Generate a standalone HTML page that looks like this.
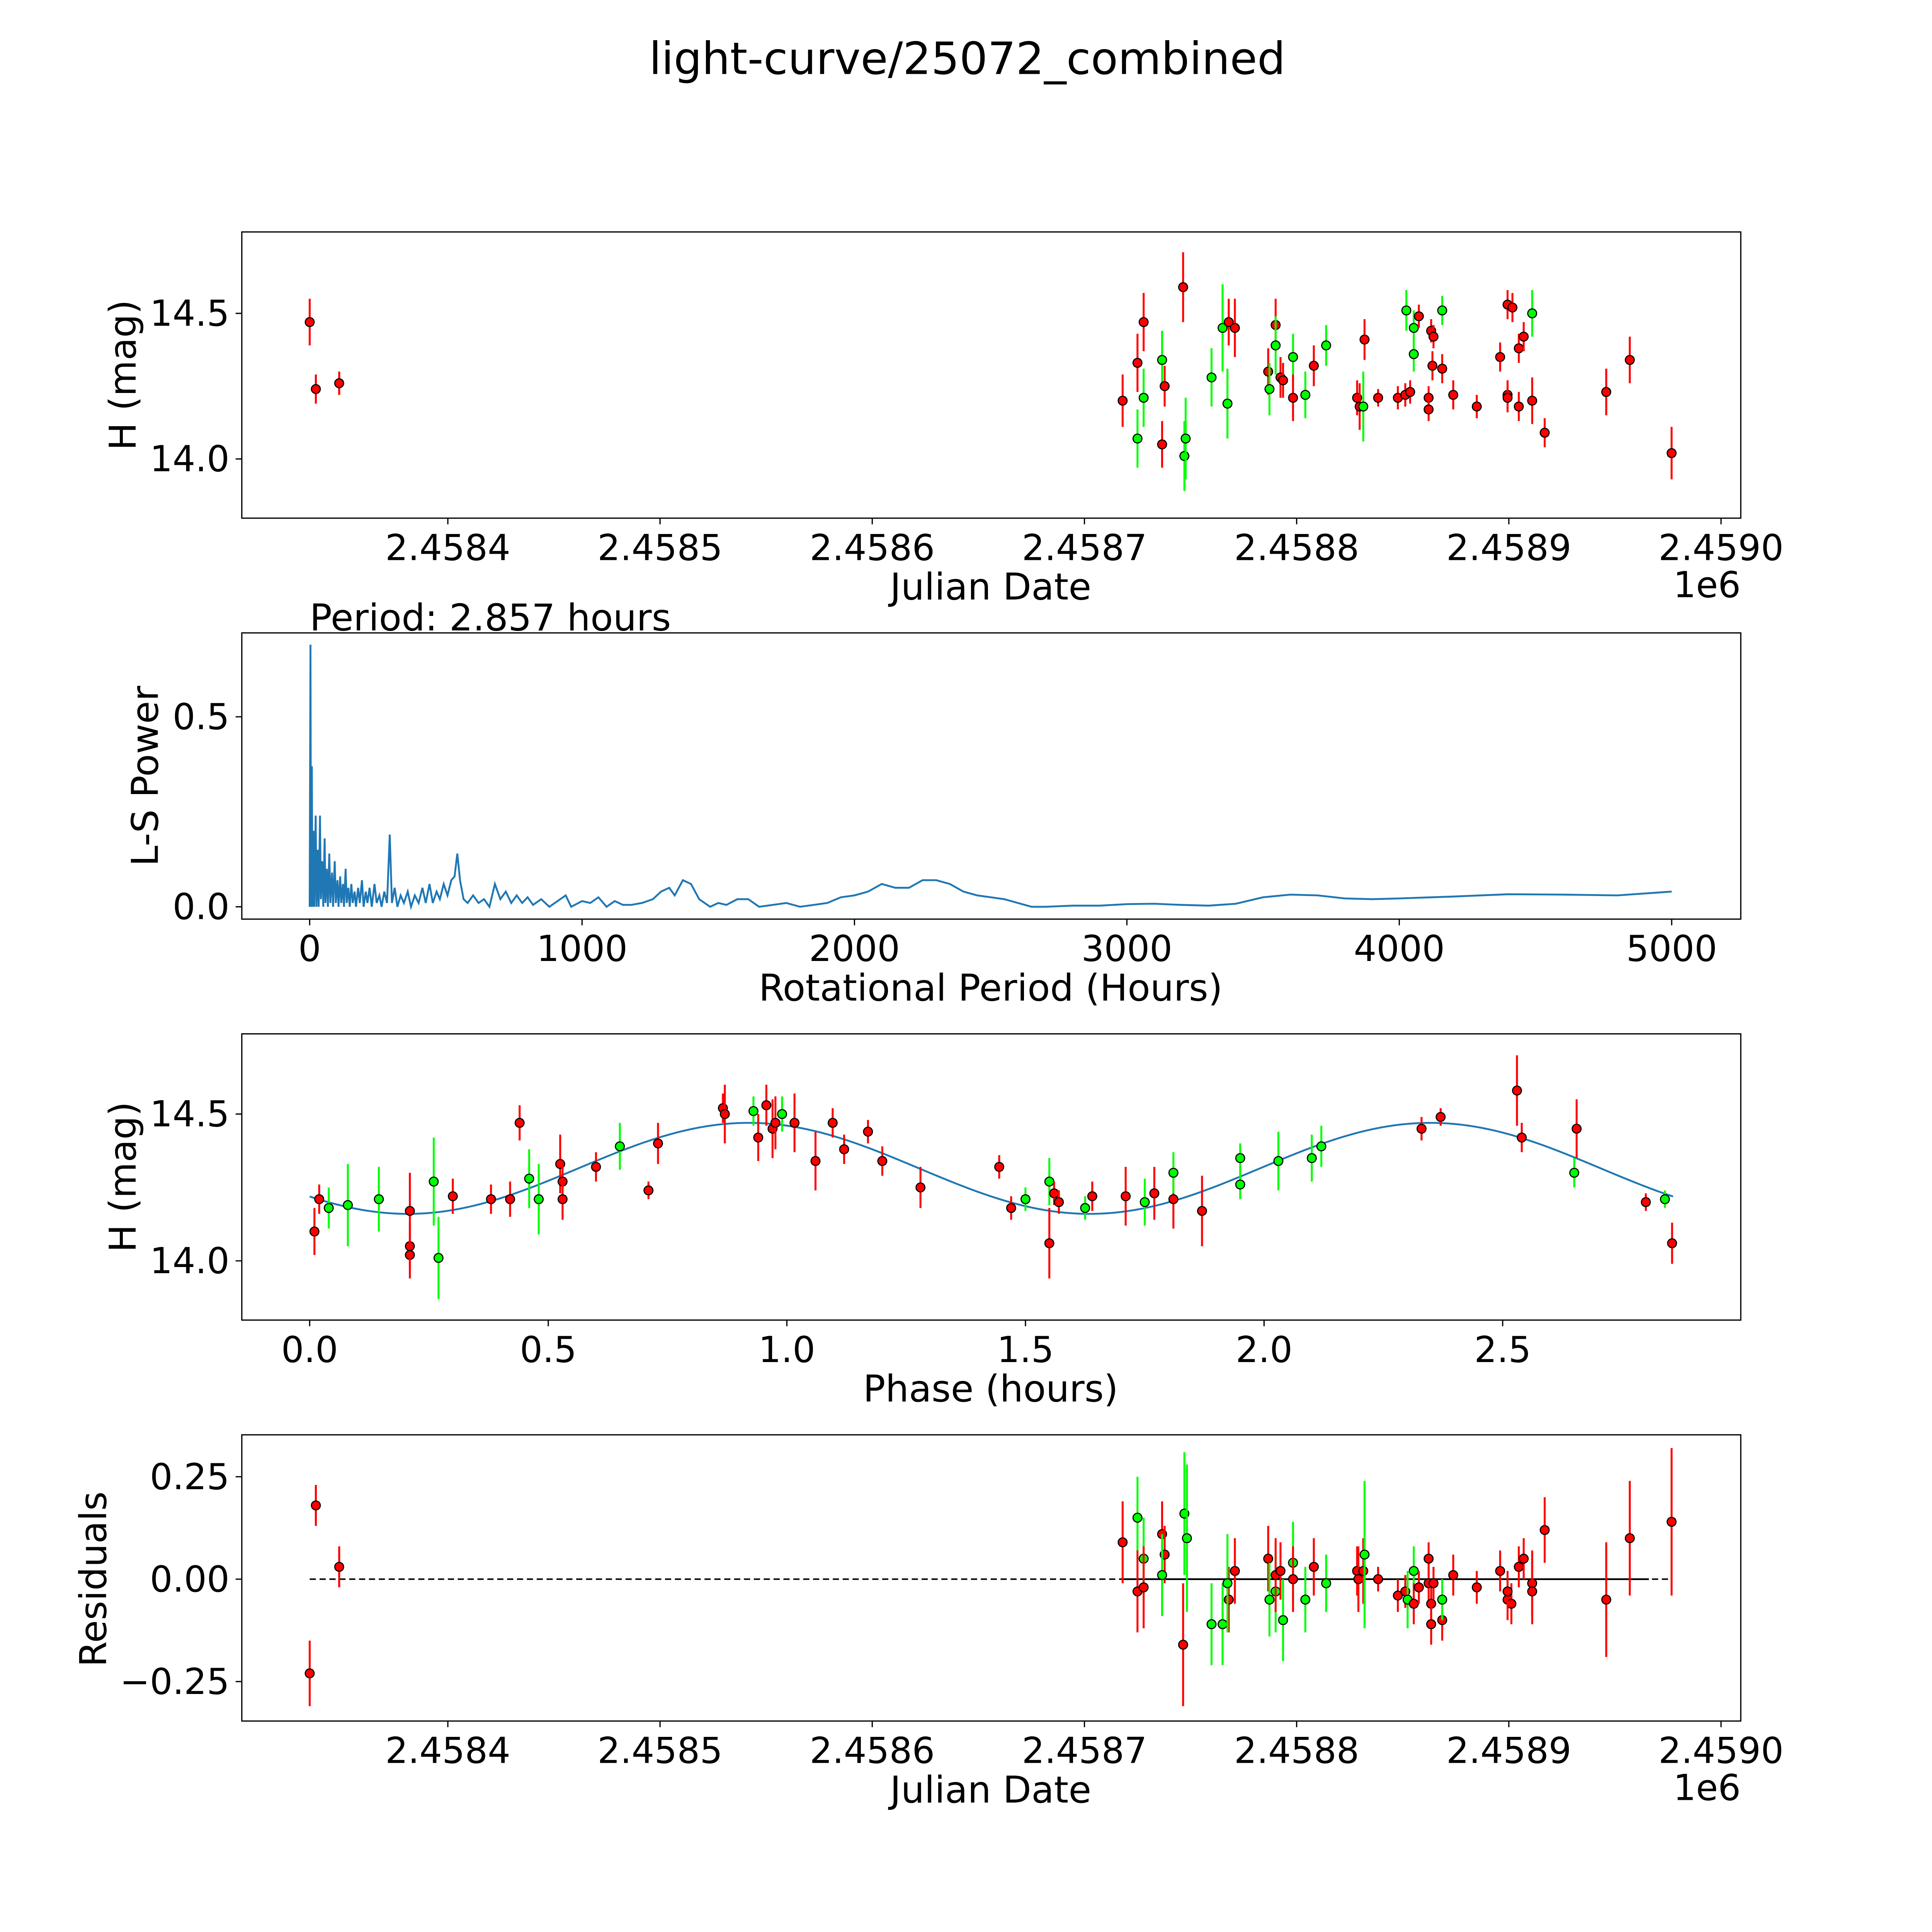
<!DOCTYPE html>
<html><head><meta charset="utf-8"><style>
html,body{margin:0;padding:0;background:#fff;overflow:hidden;width:100%;height:100%;}
svg{display:block;position:absolute;left:0;top:0;width:100vw;height:100vh;font-family:"DejaVu Sans","Liberation Sans",sans-serif;}
</style></head><body>
<svg id="fig" xmlns="http://www.w3.org/2000/svg" viewBox="0 0 1566 1566" preserveAspectRatio="none">
<rect x="0" y="0" width="1566" height="1566" fill="#fff"/>
<text x="784" y="60" font-size="36" text-anchor="middle">light-curve/25072_combined</text>
</svg>
<script>
// ---------- DATA ----------
// Panel 1: light curve (JD - 2458000)
const lcJd = [334.9,337.8,348.8,718.0,725.0,725.0,727.9,727.9,736.6,736.6,737.8,746.5,747.1,747.7,759.9,765.1,767.4,768.0,770.9,786.6,787.2,790.1,790.1,792.4,793.6,798.3,798.3,804.1,808.1,813.9,828.5,829.7,832.0,831.4,838.4,847.7,851.2,851.7,853.5,855.2,855.2,857.6,862.2,862.2,863.4,864.5,864.0,868.6,868.6,873.8,884.9,895.9,899.4,901.7,899.4,899.4,904.7,907.0,904.7,911.0,911.0,916.9,945.9,957.0,976.7];
const lcMag = [14.47,14.24,14.26,14.20,14.33,14.07,14.47,14.21,14.05,14.34,14.25,14.59,14.01,14.07,14.28,14.45,14.19,14.47,14.45,14.30,14.24,14.46,14.39,14.28,14.27,14.35,14.21,14.22,14.32,14.39,14.21,14.18,14.41,14.18,14.21,14.21,14.22,14.51,14.23,14.36,14.45,14.49,14.21,14.17,14.44,14.42,14.32,14.31,14.51,14.22,14.18,14.35,14.53,14.52,14.22,14.21,14.38,14.42,14.18,14.50,14.20,14.09,14.23,14.34,14.02];
const lcErr = [0.08,0.05,0.04,0.09,0.1,0.1,0.1,0.1,0.08,0.1,0.07,0.12,0.12,0.14,0.1,0.15,0.12,0.08,0.1,0.08,0.09,0.09,0.1,0.07,0.06,0.08,0.08,0.08,0.07,0.07,0.06,0.08,0.07,0.12,0.03,0.04,0.04,0.07,0.04,0.06,0.06,0.04,0.04,0.04,0.04,0.04,0.05,0.05,0.05,0.05,0.04,0.05,0.05,0.05,0.05,0.05,0.05,0.05,0.05,0.08,0.08,0.05,0.08,0.08,0.09];
const lcCol = "rrrrrgrgrgrrggggg rrrgrgrrgrgrgrrrgrrrgrggrrrrrrrgrrrrrrrrrrgrrrrrr".replace(/ /g,"").split("");
// Panel 2: periodogram
const lsPeriod = [0,3,5,8,10,14,17,22,25,30,33,38,41,46,50,55,58,63,67,72,76,82,86,92,96,102,106,112,116,122,126,132,136,142,147,153,158,165,170,178,184,192,198,206,212,220,228,238,246,256,264,274,284,294,302,312,322,334,346,360,372,386,400,414,426,440,452,466,478,492,506,520,532,542,552,565,580,600,620,640,660,680,700,720,740,760,780,800,820,850,880,920,940,960,1000,1030,1060,1090,1120,1150,1180,1220,1260,1290,1320,1340,1370,1400,1430,1470,1500,1530,1570,1610,1650,1700,1750,1800,1850,1900,1950,2000,2050,2100,2150,2200,2250,2300,2350,2400,2450,2500,2550,2600,2650,2700,2800,2900,3000,3100,3200,3300,3400,3500,3600,3700,3800,3900,4000,4200,4400,4600,4800,5000];
const lsPower = [0,0.69,0,0.37,0,0.2,0,0.24,0,0.15,0,0.24,0.02,0.12,0,0.18,0.01,0.1,0,0.14,0.01,0.09,0,0.12,0.01,0.07,0,0.08,0.01,0.06,0,0.1,0.01,0.05,0,0.06,0.01,0.04,0,0.05,0.01,0.07,0,0.04,0.01,0.05,0,0.06,0.01,0.03,0,0.04,0.01,0.19,0.01,0.05,0,0.03,0.01,0.04,0,0.03,0.01,0.05,0.01,0.06,0.01,0.04,0.02,0.06,0.03,0.07,0.08,0.14,0.07,0.02,0.01,0.03,0.01,0.02,0.0,0.06,0.02,0.04,0.01,0.03,0.01,0.025,0.005,0.02,0.0,0.02,0.03,0.0,0.015,0.01,0.025,0.0,0.015,0.005,0.005,0.01,0.02,0.04,0.05,0.03,0.07,0.06,0.02,0.0,0.01,0.005,0.02,0.02,0.0,0.005,0.01,0.0,0.005,0.01,0.025,0.03,0.04,0.06,0.05,0.05,0.07,0.07,0.06,0.04,0.03,0.025,0.02,0.01,0.0,0.0,0.003,0.003,0.007,0.008,0.005,0.003,0.008,0.025,0.032,0.03,0.022,0.02,0.022,0.027,0.033,0.032,0.03,0.04];
// Panel 3: phased
const phX = [0.01,0.02,0.04,0.08,0.145,0.21,0.21,0.21,0.26,0.27,0.30,0.38,0.42,0.44,0.46,0.48,0.525,0.53,0.53,0.60,0.65,0.71,0.73,0.866,0.87,0.93,0.94,0.957,0.97,0.976,0.99,1.016,1.06,1.096,1.12,1.17,1.20,1.28,1.445,1.47,1.50,1.55,1.55,1.56,1.57,1.625,1.64,1.71,1.75,1.77,1.81,1.81,1.87,1.95,1.95,2.03,2.10,2.12,2.33,2.37,2.53,2.54,2.65,2.655,2.80,2.84,2.855];
const phMag = [14.10,14.21,14.18,14.19,14.21,14.02,14.05,14.17,14.27,14.01,14.22,14.21,14.21,14.47,14.28,14.21,14.33,14.27,14.21,14.32,14.39,14.24,14.40,14.52,14.50,14.51,14.42,14.53,14.45,14.47,14.50,14.47,14.34,14.47,14.38,14.44,14.34,14.25,14.32,14.18,14.21,14.27,14.06,14.23,14.20,14.18,14.22,14.22,14.20,14.23,14.21,14.30,14.17,14.26,14.35,14.34,14.35,14.39,14.45,14.49,14.58,14.42,14.30,14.45,14.20,14.21,14.06];
const phErr = [0.08,0.05,0.07,0.14,0.11,0.08,0.08,0.13,0.15,0.14,0.06,0.05,0.06,0.06,0.1,0.12,0.1,0.07,0.07,0.05,0.08,0.03,0.07,0.05,0.1,0.05,0.08,0.07,0.1,0.09,0.06,0.1,0.1,0.05,0.05,0.04,0.05,0.07,0.04,0.04,0.04,0.08,0.12,0.04,0.04,0.04,0.05,0.1,0.08,0.09,0.1,0.07,0.12,0.05,0.05,0.1,0.08,0.07,0.04,0.03,0.12,0.05,0.05,0.1,0.03,0.03,0.07];
const phCol = "rrgggrrrgg rrrrggrrrrgrrrrgrrrrgrrrrrrrrrgg rrrgrrgrrgrgggggrrrrgrrg".replace(/ /g,"").split("");
const fitMean = 14.315, fitAmp = 0.155, fitPeriod = 2.857, fitOffset = 0.394;
// Panel 4: residuals
const resJd = [334.9,337.8,348.8,718.0,725.0,725.0,727.9,727.9,736.6,737.8,736.6,746.5,747.1,748.3,759.9,765.1,768.0,767.4,770.9,786.6,787.2,790.1,790.1,792.4,793.6,798.3,798.3,804.1,808.1,813.9,828.5,829.1,831.4,832.0,838.4,847.7,851.2,852.3,855.2,855.2,857.6,862.2,862.2,863.4,863.4,864.5,868.6,868.6,873.8,884.9,895.9,899.4,901.2,899.4,904.7,907.0,911.0,911.0,916.9,945.9,957.0,976.7];
const resVal = [-0.23,0.18,0.03,0.09,0.15,-0.03,0.05,-0.02,0.11,0.06,0.01,-0.16,0.16,0.10,-0.11,-0.11,-0.05,-0.01,0.02,0.05,-0.05,-0.03,0.01,0.02,-0.10,0.04,0.0,-0.05,0.03,-0.01,0.02,0.0,0.02,0.06,0.0,-0.04,-0.03,-0.05,0.02,-0.06,-0.02,0.05,-0.01,-0.06,-0.11,-0.01,-0.10,-0.05,0.01,-0.02,0.02,-0.05,-0.06,-0.03,0.03,0.05,-0.01,-0.03,0.12,-0.05,0.10,0.14];
const resErr = [0.08,0.05,0.05,0.1,0.1,0.1,0.1,0.1,0.08,0.07,0.1,0.15,0.15,0.18,0.1,0.1,0.08,0.12,0.08,0.08,0.09,0.1,0.09,0.07,0.1,0.1,0.08,0.08,0.07,0.07,0.06,0.08,0.08,0.18,0.03,0.04,0.04,0.07,0.06,0.05,0.04,0.04,0.04,0.05,0.05,0.04,0.05,0.05,0.05,0.04,0.05,0.05,0.05,0.05,0.05,0.05,0.08,0.08,0.08,0.14,0.14,0.18];
const resCol = "rrrrgrgrrrgrgggg rgrrggrrgg rgrgrrrgrrrggr rrrrrrrgrrrrrrrrrrrrrrr".replace(/ /g,"").split("");
// Tick labels
const jdTicks = [2.4584,2.4585,2.4586,2.4587,2.4588,2.4589,2.4590];
const jdTickLabels = ["2.4584","2.4585","2.4586","2.4587","2.4588","2.4589","2.4590"];
const magTicks = [14.0,14.5];
const lsXTicks = [0,1000,2000,3000,4000,5000];
const lsYTicks = [0.0,0.5];
const phXTicks = [0.0,0.5,1.0,1.5,2.0,2.5];
const resYTicks = [-0.25,0.0,0.25];

// ---------- DRAW ----------
const NS="http://www.w3.org/2000/svg";
const svg=document.getElementById('fig');
function mk(tag,attrs,parent){const e=document.createElementNS(NS,tag);for(const k in attrs)e.setAttribute(k,attrs[k]);(parent||svg).appendChild(e);return e;}
const COL={r:"#ff0000",g:"#00ff00"};
const L=196,R=1411;
const TF=29, LF=30;
const jdX = d => 363 + (d-400)*1.72;
const jdTickX = v => jdX(v*1e6-2458000);
function frame(top,name){
  const g=mk('g',{});
  
  
  mk('rect',{x:L,y:top,width:R-L,height:232,fill:'none',stroke:'#000','stroke-width':1},g);
  return g;
}
function xtick(g,x,bottom,label){
  mk('line',{x1:x,y1:bottom,x2:x,y2:bottom+5,stroke:'#000','stroke-width':1},g);
  const t=mk('text',{x:x,y:bottom+34,'font-size':TF,'text-anchor':'middle'},g);
  
  
  t.textContent=label;
}
function ytick(g,y,label){
  mk('line',{x1:L,y1:y,x2:L-5,y2:y,stroke:'#000','stroke-width':1},g);
  const t=mk('text',{x:L-10,y:y+10,'font-size':TF,'text-anchor':'end'},g);
  
  
  t.textContent=label;
}
function label(g,x,y,txt,rot,name){
  const t=mk('text',{x:x,y:y,'font-size':LF,'text-anchor':'middle',transform:rot?`rotate(-90 ${x} ${y})`:''},g);
  
  
  t.textContent=txt;
}
function point(g,x,y,errPx,c){
  const l=mk('line',{x1:x,y1:y-errPx,x2:x,y2:y+errPx,stroke:COL[c],'stroke-width':1.6},g);
  
  
  const p=mk('circle',{cx:x,cy:y,r:3.6,fill:COL[c],stroke:'#000','stroke-width':0.9},g);
  
  
}

// Panel 1
{
  const g=frame(188,'light-curve-panel');
  const y=m=>254+(14.5-m)*236;
  jdTicks.forEach((v,i)=>xtick(g,jdTickX(v),420,jdTickLabels[i]));
  magTicks.forEach(v=>ytick(g,y(v),v.toFixed(1)));
  label(g,803,486,'Julian Date',false,'x-axis-title');
  label(g,110,304,'H (mag)',true,'y-axis-title');
  const o=mk('text',{x:1411,y:484,'font-size':TF,'text-anchor':'end'},g);
  
  
  o.textContent='1e6';
  lcJd.forEach((d,i)=>point(g,jdX(d),y(lcMag[i]),lcErr[i]*236,lcCol[i]||'r'));
}
// Panel 2
{
  const g=frame(513,'periodogram-panel');
  const x=p=>251+p*0.2208, y=w=>735-w*308;
  lsXTicks.forEach(v=>xtick(g,x(v),745,String(v)));
  lsYTicks.forEach(v=>ytick(g,y(v),v.toFixed(1)));
  label(g,803,811,'Rotational Period (Hours)',false,'x-axis-title');
  label(g,128,629,'L-S Power',true,'y-axis-title');
  const pt=mk('text',{x:251,y:511,'font-size':LF},g);
  
  
  pt.textContent='Period: 2.857 hours';
  const d=lsPeriod.map((p,i)=>(i?'L':'M')+x(p).toFixed(2)+' '+y(lsPower[i]).toFixed(2)).join(' ');
  const ln=mk('path',{d:d,fill:'none',stroke:'#1f77b4','stroke-width':1.5},g);
  
  
}
// Panel 3
{
  const g=frame(838,'phased-panel');
  const x=p=>251+p*386.8, y=m=>903+(14.5-m)*238;
  phXTicks.forEach(v=>xtick(g,x(v),1070,v.toFixed(1)));
  magTicks.forEach(v=>ytick(g,y(v),v.toFixed(1)));
  label(g,803,1136,'Phase (hours)',false,'x-axis-title');
  label(g,110,954,'H (mag)',true,'y-axis-title');
  let d='';
  for(let i=0;i<=200;i++){const p=fitPeriod*i/200;const m=fitMean+fitAmp*Math.sin(2*Math.PI*(2*p/fitPeriod-fitOffset));d+=(i?'L':'M')+x(p).toFixed(2)+' '+y(m).toFixed(2)+' ';}
  const ln=mk('path',{d:d,fill:'none',stroke:'#1f77b4','stroke-width':1.5},g);
  
  
  phX.forEach((p,i)=>point(g,x(p),y(phMag[i]),phErr[i]*238,phCol[i]||'r'));
}
// Panel 4
{
  const g=frame(1163,'residuals-panel');
  const y=r=>1280-r*332;
  jdTicks.forEach((v,i)=>xtick(g,jdTickX(v),1395,jdTickLabels[i]));
  resYTicks.forEach(v=>ytick(g,y(v),v<0?'\u22120.25':v.toFixed(2)));
  label(g,803,1461,'Julian Date',false,'x-axis-title');
  label(g,86,1280,'Residuals',true,'y-axis-title');
  const o=mk('text',{x:1411,y:1459,'font-size':TF,'text-anchor':'end'},g);
  
  
  o.textContent='1e6';
  const z=mk('line',{x1:jdX(334.9),y1:y(0),x2:jdX(976.7),y2:y(0),stroke:'#000','stroke-width':1.2,'stroke-dasharray':'5,3'},g);
  
  
  const s=mk('line',{x1:jdX(718),y1:y(0),x2:jdX(966),y2:y(0),stroke:'#000','stroke-width':1.4},g);
  
  
  resJd.forEach((d,i)=>point(g,jdX(d),y(resVal[i]),resErr[i]*332,resCol[i]||'r'));
}
</script>
</body></html>
